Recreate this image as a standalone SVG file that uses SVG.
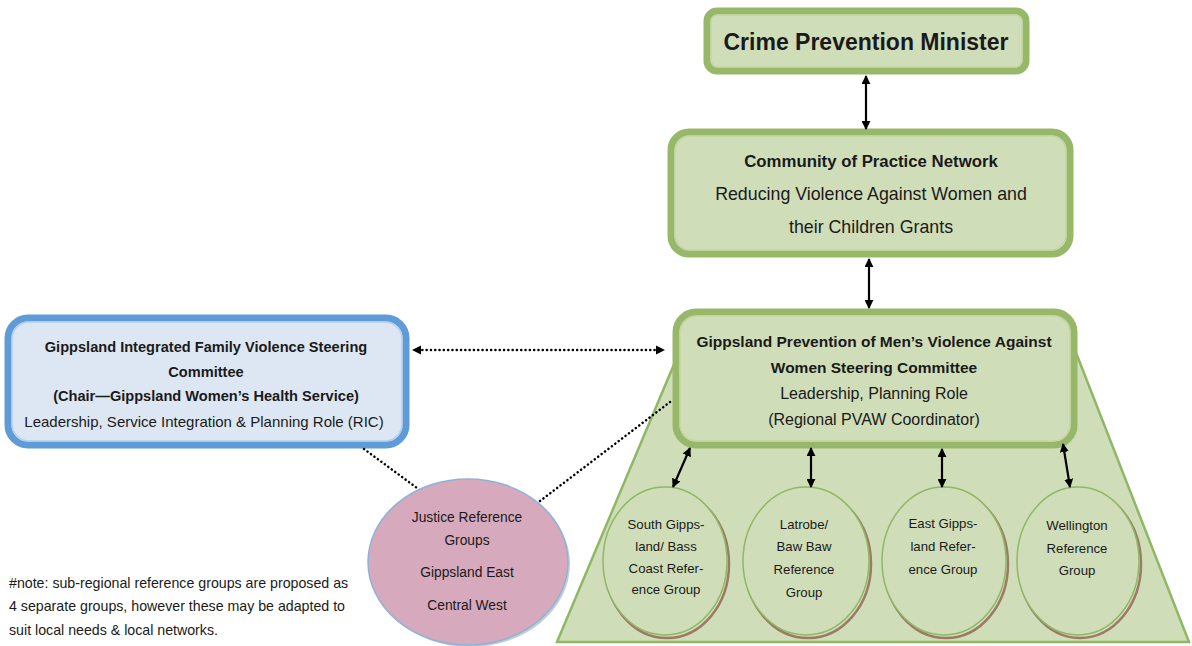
<svg xmlns="http://www.w3.org/2000/svg" width="1192" height="646" viewBox="0 0 1192 646">
<defs>
<marker id="ah" viewBox="0 0 10 10" refX="9" refY="5" markerWidth="9" markerHeight="9" markerUnits="userSpaceOnUse" orient="auto-start-reverse">
<path d="M0,0 L10,5 L0,10 z" fill="#000"/>
</marker>
<style>
text{font-family:"Liberation Sans",Arial,sans-serif;fill:#1a1a1a;text-anchor:middle}
.b{font-weight:bold}
.gbox{fill:#d0ddb9;stroke:#97b868;stroke-width:7}
.gin{fill:none;stroke:#c3d6a4;stroke-width:1.5}
.bbox{fill:#dde7f3;stroke:#5f9bd6;stroke-width:7}
.bin{fill:none;stroke:#b4cfec;stroke-width:1.5}
.circ{fill:#d0ddb9;stroke:#8fb866;stroke-width:1.5}
.shad{fill:none;stroke:#9c7a66;stroke-width:2.5}
.ar{stroke:#000;stroke-width:2.2;fill:none;marker-start:url(#ah);marker-end:url(#ah)}
.dot{stroke:#000;stroke-width:2.5;fill:none;stroke-dasharray:0.1 4.2;stroke-linecap:round}
.ct{font-size:13.2px}
.jt{font-size:13.8px}
.nt{font-size:14.2px;text-anchor:start}
</style>
</defs>

<g id="trapezoid">
<polygon points="675,362 1075,350 1189,642 557,642" fill="#d0ddb9" stroke="#8fb866" stroke-width="2.5"/>
</g>

<g id="minister">
<rect class="gbox" x="707" y="11" width="319" height="60" rx="10"/>
<rect class="gin" x="711" y="15" width="311" height="52" rx="7"/>
<text class="b" x="866" y="50" font-size="23">Crime Prevention Minister</text>
</g>

<g id="community">
<rect class="gbox" x="671" y="132" width="399" height="122" rx="18"/>
<rect class="gin" x="675" y="136" width="391" height="114" rx="15"/>
<text class="b" x="871" y="167" font-size="16.8">Community of Practice Network</text>
<text x="871" y="200" font-size="17.8">Reducing Violence Against Women and</text>
<text x="871" y="233" font-size="17.8">their Children Grants</text>
</g>

<g id="prevention">
<rect class="gbox" x="676" y="312" width="398" height="133" rx="20"/>
<rect class="gin" x="680" y="316" width="390" height="125" rx="17"/>
<text class="b" x="874" y="347" font-size="15.5">Gippsland Prevention of Men’s Violence Against</text>
<text class="b" x="874" y="373" font-size="15.5">Women Steering Committee</text>
<text x="874" y="399" font-size="16">Leadership, Planning Role</text>
<text x="874" y="425" font-size="16">(Regional PVAW Coordinator)</text>
</g>

<g id="integrated">
<rect class="bbox" x="8" y="318" width="398" height="127" rx="20"/>
<rect class="bin" x="12" y="322" width="390" height="119" rx="17"/>
<text class="b" x="206" y="352" font-size="14.6">Gippsland Integrated Family Violence Steering</text>
<text class="b" x="206" y="377" font-size="14.6">Committee</text>
<text class="b" x="206" y="401" font-size="14.6">(Chair—Gippsland Women’s Health Service)</text>
<text x="204" y="427" font-size="15">Leadership, Service Integration &amp; Planning Role (RIC)</text>
</g>

<g id="justice">
<ellipse cx="470" cy="564" rx="100" ry="83" fill="#8e9aa8" opacity="0.5"/>
<ellipse cx="468" cy="562" rx="100" ry="83" fill="#d6a9bc" stroke="#8db3d8" stroke-width="1.5"/>
<text class="jt" x="467" y="522">Justice Reference</text>
<text class="jt" x="467" y="545">Groups</text>
<text class="jt" x="467" y="577">Gippsland East</text>
<text class="jt" x="467" y="610">Central West</text>
</g>

<g id="south">
<ellipse class="shad" cx="667" cy="564" rx="62" ry="74"/>
<ellipse class="circ" cx="665" cy="561" rx="62" ry="74"/>
<text class="ct" x="666" y="529">South Gipps-</text>
<text class="ct" x="666" y="551">land/ Bass</text>
<text class="ct" x="666" y="573">Coast Refer-</text>
<text class="ct" x="666" y="594">ence Group</text>
</g>

<g id="latrobe">
<ellipse class="shad" cx="808" cy="564" rx="63" ry="74"/>
<ellipse class="circ" cx="806" cy="561" rx="63" ry="74"/>
<text class="ct" x="804" y="529">Latrobe/</text>
<text class="ct" x="804" y="551">Baw Baw</text>
<text class="ct" x="804" y="574">Reference</text>
<text class="ct" x="804" y="597">Group</text>
</g>

<g id="east">
<ellipse class="shad" cx="946" cy="564" rx="62" ry="74"/>
<ellipse class="circ" cx="944" cy="561" rx="62" ry="74"/>
<text class="ct" x="943" y="528">East  Gipps-</text>
<text class="ct" x="943" y="551">land Refer-</text>
<text class="ct" x="943" y="574">ence Group</text>
</g>

<g id="wellington">
<ellipse class="shad" cx="1080" cy="564" rx="61" ry="74"/>
<ellipse class="circ" cx="1078" cy="561" rx="61" ry="74"/>
<text class="ct" x="1077" y="530">Wellington</text>
<text class="ct" x="1077" y="553">Reference</text>
<text class="ct" x="1077" y="575">Group</text>
</g>

<g id="note">
<text class="nt" x="9" y="588">#note: sub-regional reference groups are proposed as</text>
<text class="nt" x="9" y="611">4 separate groups, however these may be adapted to</text>
<text class="nt" x="9" y="635">suit local needs &amp; local networks.</text>
</g>

<g id="connectors">
<line class="ar" x1="866" y1="76" x2="866" y2="129"/>
<line class="ar" x1="869" y1="259" x2="869" y2="308"/>
<line class="ar" x1="690" y1="448" x2="673" y2="487"/>
<line class="ar" x1="811" y1="448" x2="811" y2="487"/>
<line class="ar" x1="942" y1="449" x2="942" y2="487"/>
<line class="ar" x1="1063" y1="444" x2="1070" y2="487"/>
<line class="dot" x1="418" y1="350" x2="658" y2="350"/>
<path d="M412,350 l9,-4.5 v9 z" fill="#000"/>
<path d="M665,350 l-9,-4.5 v9 z" fill="#000"/>
<line class="dot" x1="364" y1="449" x2="417" y2="488"/>
<line class="dot" x1="540" y1="501" x2="670" y2="402"/>
</g>
</svg>
